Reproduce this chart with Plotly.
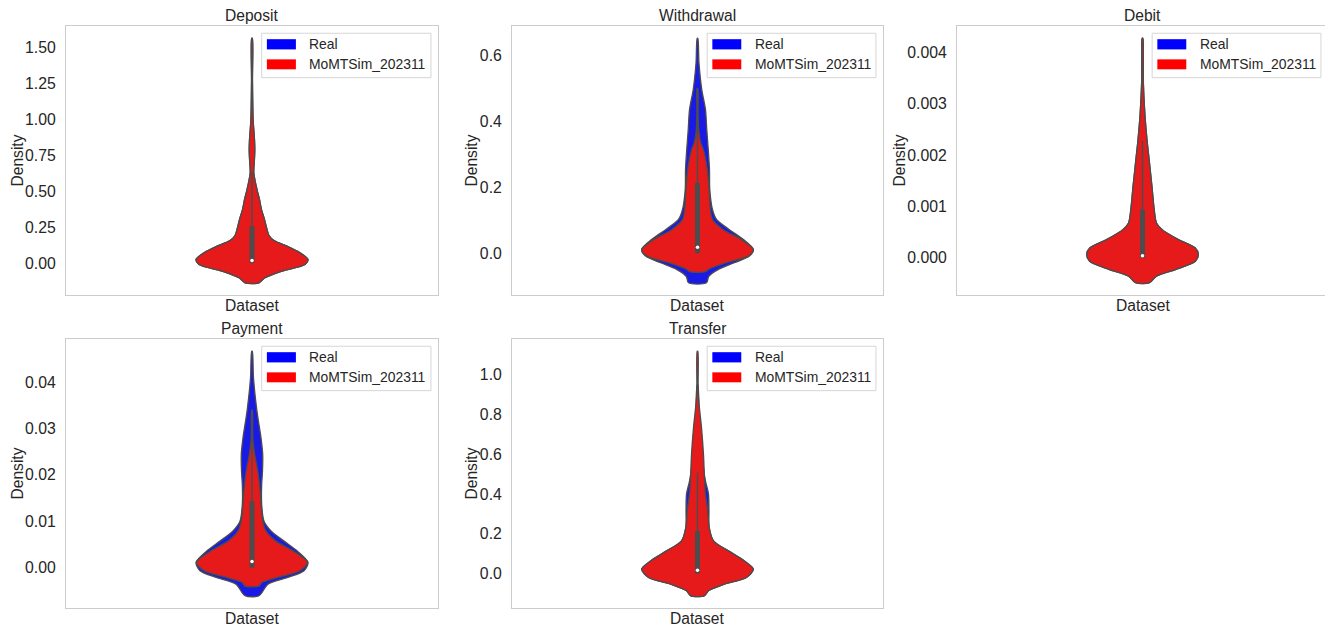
import plotly.graph_objects as go

# ---------------- data (violin density profiles) ----------------
panel_names = ["Deposit", "Withdrawal", "Debit", "Payment", "Transfer"]
series_names = ["Real", "MoMTSim_202311"]

# y: value levels (top -> bottom); w: half-width of the violin at that level (category-axis units)
deposit_real_y = [1.564, 1.275, 0.998, 0.859, 0.790, 0.721, 0.630, 0.513, 0.443, 0.374, 0.305, 0.236, 0.194, 0.159, 0.120, 0.074, 0.028, -0.007, -0.053, -0.099, -0.134]
deposit_real_w = [0.0008, 0.0012, 0.0030, 0.0067, 0.0075, 0.0065, 0.0048, 0.0134, 0.0202, 0.0255, 0.0336, 0.0403, 0.0457, 0.0591, 0.0941, 0.129, 0.1505, 0.1425, 0.0806, 0.035, 0.0188]
deposit_sim_y = [1.564, 1.275, 0.998, 0.859, 0.790, 0.721, 0.630, 0.513, 0.443, 0.374, 0.305, 0.236, 0.194, 0.159, 0.120, 0.074, 0.028, -0.007, -0.053, -0.099, -0.134]
deposit_sim_w = [0.0008, 0.0012, 0.0030, 0.0067, 0.0075, 0.0065, 0.0048, 0.0134, 0.0202, 0.0255, 0.0336, 0.0403, 0.0457, 0.0591, 0.0941, 0.129, 0.1505, 0.1425, 0.0806, 0.035, 0.0188]

withdrawal_real_y = [0.652, 0.577, 0.496, 0.436, 0.375, 0.315, 0.255, 0.194, 0.134, 0.104, 0.073, 0.043, 0.013, -0.007, -0.027, -0.047, -0.068, -0.0876]
withdrawal_real_w = [0.0008, 0.0040, 0.0116, 0.0215, 0.0250, 0.0290, 0.0323, 0.0331, 0.0403, 0.0511, 0.086, 0.1237, 0.1505, 0.1398, 0.0995, 0.0565, 0.0304, 0.0242]
withdrawal_sim_y = [0.50, 0.42, 0.366, 0.335, 0.315, 0.255, 0.194, 0.134, 0.104, 0.073, 0.043, 0.013, -0.007, -0.027, -0.047, -0.054]
withdrawal_sim_w = [0.0008, 0.0015, 0.0040, 0.0090, 0.0160, 0.0265, 0.0312, 0.0349, 0.0403, 0.0699, 0.1183, 0.1505, 0.1371, 0.078, 0.0296, 0.0215]

debit_real_y = [0.00428, 0.00347, 0.00282, 0.0023, 0.00185, 0.00139, 0.00094, 0.00068, 0.00055, 0.000356, 0.000195, 0.000064, -0.000066, -0.000228, -0.000358, -0.000486]
debit_real_w = [0.0008, 0.0020, 0.0062, 0.0121, 0.0188, 0.0255, 0.0315, 0.0376, 0.053, 0.0968, 0.1417, 0.1505, 0.1425, 0.0887, 0.0376, 0.0188]
debit_sim_y = [0.00428, 0.00347, 0.00282, 0.0023, 0.00185, 0.00139, 0.00094, 0.00068, 0.00055, 0.000356, 0.000195, 0.000064, -0.000066, -0.000228, -0.000358, -0.000486]
debit_sim_w = [0.0008, 0.0020, 0.0062, 0.0121, 0.0188, 0.0255, 0.0315, 0.0376, 0.053, 0.0968, 0.1417, 0.1505, 0.1425, 0.0887, 0.0376, 0.0188]

payment_real_y = [0.0467, 0.0409, 0.0337, 0.0280, 0.0244, 0.0208, 0.0179, 0.0136, 0.0100, 0.0079, 0.0057, 0.0036, 0.0011, -0.0007, -0.0022, -0.0036, -0.0061]
payment_real_w = [0.0008, 0.0040, 0.0134, 0.0242, 0.0288, 0.0282, 0.0260, 0.0260, 0.0323, 0.0511, 0.086, 0.121, 0.1505, 0.1398, 0.0941, 0.043, 0.0188]
payment_sim_y = [0.034, 0.028, 0.0244, 0.0208, 0.0172, 0.0136, 0.0100, 0.0079, 0.0057, 0.0036, 0.0011, -0.0007, -0.0022, -0.0032, -0.0040]
payment_sim_w = [0.0008, 0.0020, 0.0073, 0.0156, 0.0210, 0.0245, 0.0290, 0.0376, 0.0645, 0.1102, 0.1492, 0.129, 0.0672, 0.0269, 0.0188]

transfer_real_y = [0.95, 0.80, 0.65, 0.53, 0.465, 0.40, 0.315, 0.231, 0.164, 0.114, 0.063, 0.022, -0.020, -0.054, -0.087, -0.112]
transfer_real_w = [0.0008, 0.0050, 0.0121, 0.0161, 0.0215, 0.0296, 0.0309, 0.0315, 0.043, 0.0833, 0.1263, 0.1505, 0.1317, 0.0726, 0.0296, 0.0188]
transfer_sim_y = [1.119, 0.901, 0.734, 0.600, 0.482, 0.40, 0.315, 0.231, 0.164, 0.114, 0.063, 0.022, -0.020, -0.054, -0.087, -0.112]
transfer_sim_w = [0.0008, 0.0020, 0.0108, 0.0161, 0.0188, 0.0215, 0.0277, 0.0315, 0.043, 0.0833, 0.1263, 0.1505, 0.1317, 0.0726, 0.0296, 0.0188]

# inner box statistics of the simulated data: [lower whisker, q1, median, q3, upper whisker]
deposit_box = [0.0, 0.005, 0.02, 0.258, 0.63]
withdrawal_box = [0.0, 0.003, 0.02, 0.214, 0.50]
debit_box = [0.0, 0.0, 0.00004, 0.00094, 0.00227]
payment_box = [0.0, 0.0, 0.0013, 0.0143, 0.0341]
transfer_box = [0.0, 0.0, 0.017, 0.214, 0.508]

# tick labels
deposit_ticks = [0.00, 0.25, 0.50, 0.75, 1.00, 1.25, 1.50]
withdrawal_ticks = [0.0, 0.2, 0.4, 0.6]
debit_ticks = [0.000, 0.001, 0.002, 0.003, 0.004]
payment_ticks = [0.00, 0.01, 0.02, 0.03, 0.04]
transfer_ticks = [0.0, 0.2, 0.4, 0.6, 0.8, 1.0]
tick_formats = [".2f", ".1f", ".3f", ".2f", ".1f"]

panels = [
    (deposit_real_y, deposit_real_w, deposit_sim_y, deposit_sim_w, deposit_box, deposit_ticks),
    (withdrawal_real_y, withdrawal_real_w, withdrawal_sim_y, withdrawal_sim_w, withdrawal_box, withdrawal_ticks),
    (debit_real_y, debit_real_w, debit_sim_y, debit_sim_w, debit_box, debit_ticks),
    (payment_real_y, payment_real_w, payment_sim_y, payment_sim_w, payment_box, payment_ticks),
    (transfer_real_y, transfer_real_w, transfer_sim_y, transfer_sim_w, transfer_box, transfer_ticks),
]

# ---------------- styling ----------------
OFF = 8                      # page body margin of the html page
W, H = 1333 - OFF, 628 - OFF
FONT = "Liberation Sans, Arial, sans-serif"
TXT = "#262626"
fill_colors = ["#1a1ae6", "#e61a1a"]
legend_colors = ["#0000ff", "#ff0000"]
gray = "#4c4c4c"

# panel frames in window pixels
col_px = [(66, 438), (512, 883), (957, 1328)]
row_px = [(26, 295), (339, 608)]
ylabel_x = [17, 471, 899]
positions = [(0, 0), (0, 1), (0, 2), (1, 0), (1, 1)]


def fx(px):
    return (px - OFF) / W


def fy(py):
    return 1 - (py - OFF) / H


fig = go.Figure()
layout = dict(
    width=W, height=H, margin=dict(l=0, r=0, t=0, b=0),
    paper_bgcolor="white", plot_bgcolor="white", showlegend=False,
    font=dict(family=FONT, color=TXT),
)
annotations = []
shapes = []


def outline(ys, ws):
    xs = list(ws) + [-w for w in ws[::-1]]
    yy = list(ys) + list(ys[::-1])
    return xs + [xs[0]], yy + [yy[0]]


for i, (ry, rw, sy, sw, box, ticks) in enumerate(panels):
    n = i + 1
    xa = "x" if n == 1 else f"x{n}"
    ya = "y" if n == 1 else f"y{n}"
    r, c = positions[i]
    x0p, x1p = col_px[c]
    y0p, y1p = row_px[r]

    for k, (vy, vw) in enumerate([(ry, rw), (sy, sw)]):
        xs, yy = outline(vy, vw)
        fig.add_trace(go.Scatter(
            x=xs, y=yy, xaxis=xa, yaxis=ya, mode="lines", fill="toself",
            fillcolor=fill_colors[k], line=dict(color=gray, width=1.3, shape="spline", smoothing=0.8),
            name=series_names[k], hoverinfo="skip",
        ))
    lo, q1, med, q3, hi = box
    fig.add_trace(go.Scatter(x=[0, 0], y=[lo, hi], xaxis=xa, yaxis=ya, mode="lines",
                             line=dict(color=gray, width=1.5), hoverinfo="skip"))
    fig.add_trace(go.Scatter(x=[0, 0], y=[q1, q3], xaxis=xa, yaxis=ya, mode="lines",
                             line=dict(color=gray, width=5), hoverinfo="skip"))
    fig.add_trace(go.Scatter(x=[0], y=[med], xaxis=xa, yaxis=ya, mode="markers",
                             marker=dict(color="white", size=3.5), hoverinfo="skip"))

    all_y = list(ry) + list(sy)
    ymin, ymax = min(all_y), max(all_y)
    pad = 0.05 * (ymax - ymin)

    axkey_x = "xaxis" if n == 1 else f"xaxis{n}"
    axkey_y = "yaxis" if n == 1 else f"yaxis{n}"
    layout[axkey_x] = dict(
        domain=[fx(x0p), fx(x1p)], anchor=ya, range=[-0.5, 0.5],
        showticklabels=False, ticks="", showgrid=False, zeroline=False,
        showline=True, mirror=True, linecolor="#cccccc", linewidth=1,
    )
    layout[axkey_y] = dict(
        domain=[fy(y1p), fy(y0p)], anchor=xa, range=[ymin - pad, ymax + pad],
        tickvals=ticks, tickformat=tick_formats[i], ticks="", ticklabelstandoff=6,
        tickfont=dict(family=FONT, size=15.8, color=TXT),
        showgrid=False, zeroline=False,
        showline=True, mirror=True, linecolor="#cccccc", linewidth=1,
    )

    cxp = (x0p + x1p) / 2
    # title, x label, y label
    annotations.append(dict(text=panel_names[i], x=fx(cxp), y=fy(y0p - 10.3), xref="paper", yref="paper",
                            showarrow=False, xanchor="center", yanchor="middle",
                            font=dict(family=FONT, size=15.6, color=TXT)))
    annotations.append(dict(text="Dataset", x=fx(cxp), y=fy(y1p + 10.5), xref="paper", yref="paper",
                            showarrow=False, xanchor="center", yanchor="middle",
                            font=dict(family=FONT, size=15.6, color=TXT)))
    annotations.append(dict(text="Density", x=fx(ylabel_x[c]), y=fy((y0p + y1p) / 2), xref="paper", yref="paper",
                            showarrow=False, xanchor="center", yanchor="middle", textangle=-90,
                            font=dict(family=FONT, size=15.6, color=TXT)))

    # legend (matplotlib-style box with colour patches)
    xd, yd = f"{xa} domain", f"{ya} domain"
    shapes.append(dict(type="rect", xref=xd, yref=yd, x0=0.526, x1=0.981, y0=0.808, y1=0.973,
                       line=dict(color="#d6d6d6", width=1), fillcolor="rgba(255,255,255,0.85)", layer="above"))
    for k, (p0, p1, ty) in enumerate([(0.913, 0.951, 0.932), (0.839, 0.876, 0.858)]):
        shapes.append(dict(type="rect", xref=xd, yref=yd, x0=0.540, x1=0.618, y0=p0, y1=p1,
                           line=dict(width=0), fillcolor=legend_colors[k], layer="above"))
        annotations.append(dict(text=series_names[k], x=0.649, y=ty, xref=xd, yref=yd, showarrow=False,
                                xanchor="left", yanchor="middle",
                                font=dict(family=FONT, size=13.9, color=TXT)))

layout["annotations"] = annotations
layout["shapes"] = shapes
fig.update_layout(**layout)
fig.write_html("out.html")
